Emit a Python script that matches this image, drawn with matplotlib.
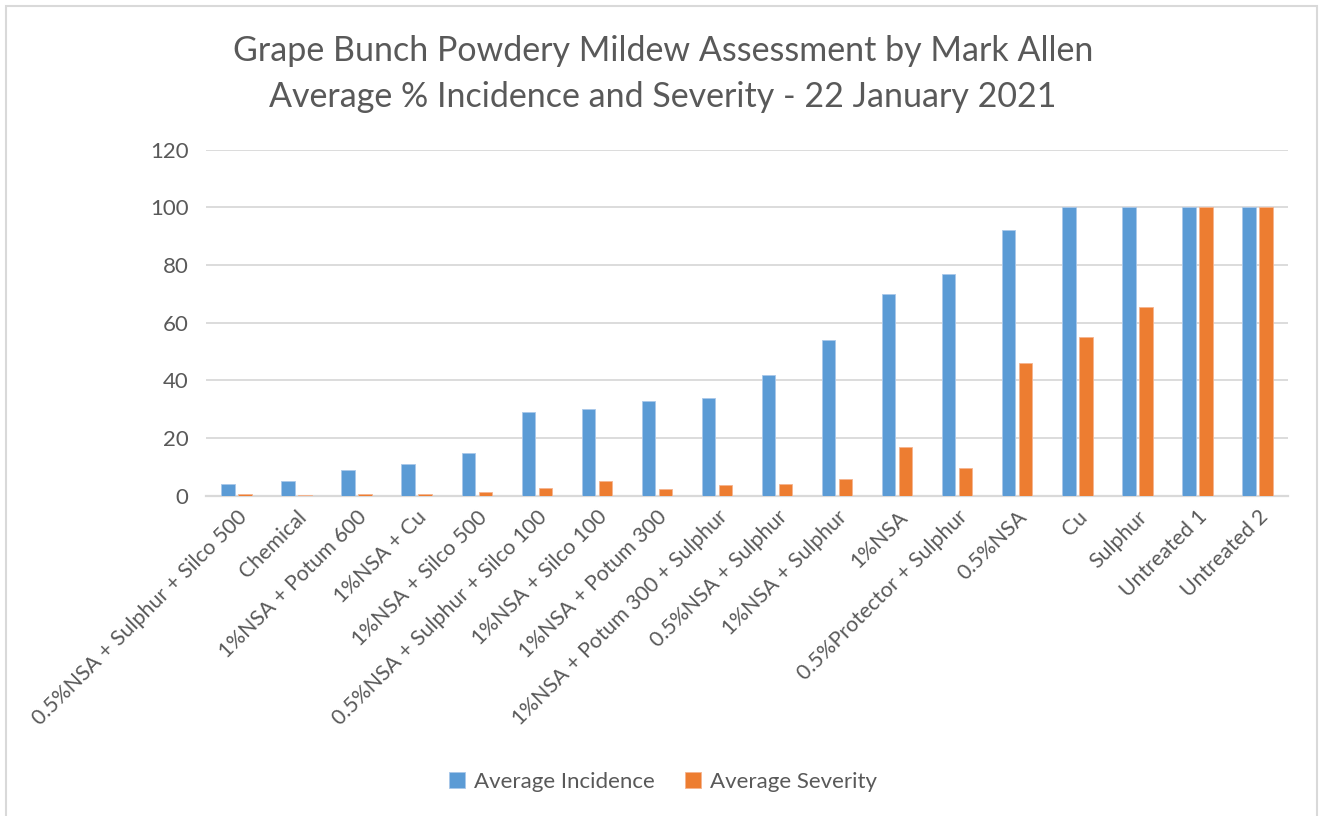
import numpy as np
import matplotlib
matplotlib.use('Agg')
import matplotlib.pyplot as plt
from matplotlib.patches import Rectangle

plt.rcParams['font.family'] = ['Lato', 'DejaVu Sans']

# treatments, ordered by incidence
treatments = ['0.5%NSA + Sulphur + Silco 500', 'Chemical', '1%NSA + Potum 600', '1%NSA + Cu',
              '1%NSA + Silco 500', '0.5%NSA + Sulphur + Silco 100', '1%NSA + Silco 100',
              '1%NSA + Potum 300', '1%NSA + Potum 300 + Sulphur', '0.5%NSA + Sulphur',
              '1%NSA + Sulphur', '1%NSA', '0.5%Protector + Sulphur', '0.5%NSA', 'Cu', 'Sulphur',
              'Untreated 1', 'Untreated 2']
incidence = [4, 5, 9, 11, 15, 29, 30, 33, 34, 42, 54, 70, 77, 92, 100, 100, 100, 100]
severity = [0.7, 0.2, 0.7, 0.7, 1.3, 2.6, 5.3, 2.5, 3.7, 4.1, 5.8, 16.9, 9.8, 45.9, 55.1, 65.5, 100, 100]
yticks = [0, 20, 40, 60, 80, 100, 120]

blue = '#5b9bd5'
orange = '#ed7d31'
grey_text = '#595959'
grid_col = '#d9d9d9'

fig = plt.figure(figsize=(13.2, 8.16), dpi=100)
ax = fig.add_axes([0.1564, 0.3924, 0.819, 0.4243])

x = np.arange(len(treatments))
w = 0.223
off = 0.1415
ax.bar(x - off, incidence, w, color=blue, edgecolor='#a9c8ea', linewidth=0.6,
       label='Average Incidence', zorder=3)
ax.bar(x + off, severity, w, color=orange, edgecolor='#f5b48f', linewidth=0.6,
       label='Average Severity', zorder=3)

ax.set_xlim(-0.5, len(treatments) - 0.5)
ax.set_ylim(0, 120)
ax.set_yticks(yticks)
ax.set_xticks(x)
ax.set_xticklabels(treatments, rotation=45, ha='right', va='top', rotation_mode='anchor')
ax.tick_params(axis='both', length=0, labelsize=16, colors=grey_text)
ax.tick_params(axis='x', labelsize=15.3, pad=8)
ax.tick_params(axis='y', pad=13)
ax.grid(axis='y', color=grid_col, linewidth=1.3, zorder=0)
for s in ['top', 'right', 'left']:
    ax.spines[s].set_visible(False)
ax.spines['bottom'].set_color(grid_col)
ax.spines['bottom'].set_linewidth(1.6)

fig.text(663 / 1320, 1 - 51 / 816, 'Grape Bunch Powdery Mildew Assessment by Mark Allen',
         ha='center', va='center', fontsize=24.5, color=grey_text)
fig.text(663 / 1320, 1 - 97 / 816, 'Average % Incidence and Severity - 22 January 2021',
         ha='center', va='center', fontsize=24.5, color=grey_text)

fig.legend(loc='center', bbox_to_anchor=(663 / 1320, 1 - 782 / 816), ncol=2, frameon=False,
           fontsize=16, handlelength=0.7, handleheight=0.7, handletextpad=0.4,
           columnspacing=1.4, labelcolor=grey_text)

# chart frame
fig.patches.append(Rectangle((6 / 1320, -0.05), 1310.5 / 1320, 1.05 - 5.5 / 816,
                             transform=fig.transFigure, fill=False, edgecolor=grid_col,
                             linewidth=1.5))

fig.savefig('out.png', dpi=100, facecolor='white')
